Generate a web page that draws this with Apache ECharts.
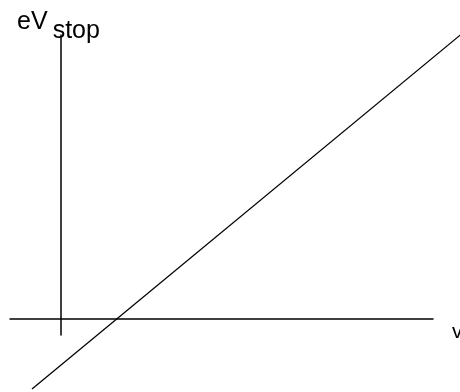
<!DOCTYPE html>
<html>
<head>
<meta charset="utf-8">
<script src="https://cdn.jsdelivr.net/npm/echarts@6/dist/echarts.min.js"></script>
<style>
  html, body { margin: 0; padding: 0; background: #fff; }
  #chart { width: 460px; height: 392px; }
</style>
</head>
<body>
<div id="chart"></div>
<script>
// frequency (x) and stopping energy (y) of the drawn line, in axis units
const lineX = [-2.9, 40.9]
const lineY = [-7.0, 29.2]

const xName = 'v'
const yName = 'eV'
const ySub = 'stop'

const chart = echarts.init(document.getElementById('chart'))

const hiddenAxis = {
  type: 'value',
  show: false,
  splitLine: { show: false }
}

const option = {
  animation: false,
  grid: [
    // grid that carries the two visible axes
    { left: 10, right: 27, top: 35, bottom: 57, outerBoundsMode: 'none' },
    // full-canvas grid with the same scale, for the line that runs past the axes
    { left: 0, right: 0, top: 0, bottom: 0, outerBoundsMode: 'none' }
  ],
  xAxis: [{
    type: 'value',
    gridIndex: 0,
    min: -5.1,
    max: 37.2,
    name: xName,
    nameLocation: 'end',
    nameGap: 19,
    nameTextStyle: {
      fontFamily: 'Liberation Sans',
      fontSize: 21,
      color: '#000',
      verticalAlign: 'top',
      padding: [3, 0, 0, 0]
    },
    axisLine: { onZero: true, lineStyle: { color: '#000', width: 1.5 } },
    axisTick: { show: false },
    axisLabel: { show: false },
    splitLine: { show: false }
  }, Object.assign({ gridIndex: 1, min: -6.1, max: 39.9 }, hiddenAxis)],
  yAxis: [{
    type: 'value',
    gridIndex: 0,
    min: -1.6,
    max: 28.4,
    name: '{a|' + yName + '}{b|' + ySub + '}',
    nameLocation: 'end',
    nameGap: -9,
    nameTextStyle: {
      fontFamily: 'Liberation Sans',
      color: '#000',
      padding: [0, 0, 0, -5],
      rich: {
        a: { fontFamily: 'Liberation Sans', fontSize: 25, color: '#000', padding: [0, 0, 9, 0] },
        b: { fontFamily: 'Liberation Sans', fontSize: 25, color: '#000', padding: [9, 0, 0, 5] }
      }
    },
    axisLine: { onZero: true, lineStyle: { color: '#000', width: 1.5 } },
    axisTick: { show: false },
    axisLabel: { show: false },
    splitLine: { show: false }
  }, Object.assign({ gridIndex: 1, min: -7.3, max: 31.9 }, hiddenAxis)],
  series: [{
    type: 'line',
    xAxisIndex: 1,
    yAxisIndex: 1,
    data: lineX.map((x, i) => [x, lineY[i]]),
    showSymbol: false,
    clip: false,
    lineStyle: { color: '#000', width: 1.3 }
  }]
}

chart.setOption(option)
</script>
</body>
</html>
